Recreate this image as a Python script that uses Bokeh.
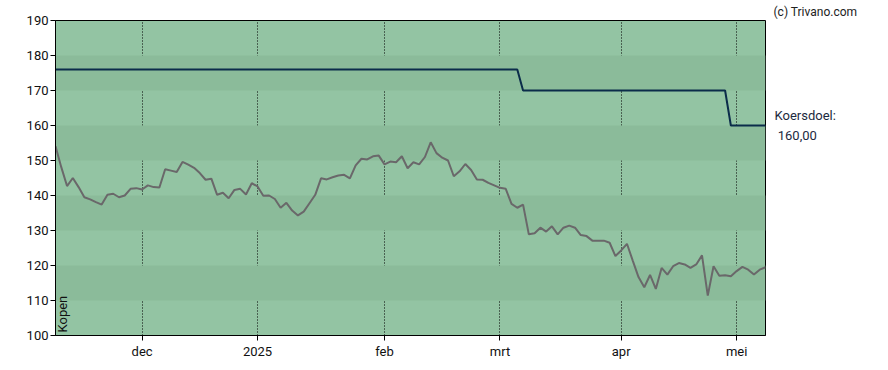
from bokeh.plotting import figure
from bokeh.models import Range1d, FixedTicker, Label, ColumnDataSource, LinearAxis
from bokeh.embed import file_html
from bokeh.resources import INLINE
import math

# ---- data (trading-day index on x) ----
price = [154.1, 148.1, 142.7, 145.0, 142.4, 139.5, 138.9, 138.1, 137.4, 140.2, 140.5,
         139.5, 140.0, 141.9, 142.1, 141.7, 142.9, 142.4, 142.3, 147.5, 147.1,
         146.7, 149.6, 148.8, 147.9, 146.4, 144.5, 144.8, 140.2, 140.8, 139.2, 141.6,
         141.9, 140.3, 143.5, 142.6, 139.9, 140.0, 139.0, 136.5, 137.9, 135.7,
         134.3, 135.4, 137.8, 140.2, 144.9, 144.6, 145.2, 145.7, 145.9, 144.9, 148.6,
         150.5, 150.3, 151.2, 151.4, 148.9, 149.7, 149.5, 151.2, 147.8, 149.5,
         148.9, 151.0, 155.2, 152.1, 150.8, 150.0, 145.5, 146.9, 149.0, 147.3, 144.6,
         144.5, 143.6, 142.9, 142.2, 141.9, 137.6, 136.5, 137.4, 128.9, 129.2,
         130.8, 129.7, 131.2, 128.9, 130.8, 131.4, 130.8, 128.7, 128.4, 127.1, 127.1,
         127.1, 126.5, 122.7, 124.3, 126.2, 121.4, 116.7, 113.8, 117.3, 113.3,
         119.3, 117.4, 119.8, 120.7, 120.3, 119.3, 120.3, 122.9, 111.4, 119.8, 117.1,
         117.2, 116.9, 118.4, 119.6, 118.8, 117.4, 118.8, 119.5]
target = [176.0] * 81 + [170.0] * 36 + [160.0] * 7
days = list(range(len(price)))

month_ticks = [15, 35, 57, 77, 98, 118]
month_labels = ["dec", "2025", "feb", "mrt", "apr", "mei"]
y_ticks = [100, 110, 120, 130, 140, 150, 160, 170, 180, 190]

target_label = "Koersdoel:"
target_value_label = f"{target[-1]:.2f}".replace(".", ",")
advice_label = "Kopen"
credit = "(c) Trivano.com"

FONT = "Roboto"
LIGHT = "#93c4a3"
DARK = "#8bbb9a"
TEXT = "#111111"

src = ColumnDataSource(dict(x=days, price=price, target=target))

p = figure(width=888, height=370, output_backend="svg", toolbar_location=None,
           x_range=Range1d(0, len(price) - 1), y_range=Range1d(100, 190),
           min_border_left=55, min_border_right=123, min_border_top=20,
           min_border_bottom=35)
p.background_fill_color = LIGHT
p.border_fill_color = "white"
p.outline_line_color = "black"
p.outline_line_width = 1

# credit as title, shifted to the right of the frame
p.title.text = credit
p.title.align = "left"
p.title.offset = 718
p.title.standoff = 3
p.title.text_font = FONT
p.title.text_font_size = "12px"
p.title.text_font_style = "normal"
p.title.text_color = "#222222"

# bands via y grid
p.ygrid.ticker = FixedTicker(ticks=y_ticks)
p.ygrid.grid_line_alpha = 0
p.ygrid.band_fill_color = DARK
p.ygrid.band_fill_alpha = 1.0

p.xgrid.ticker = FixedTicker(ticks=month_ticks)
p.xgrid.grid_line_color = "black"
p.xgrid.grid_line_dash = "1 2"
p.xgrid.grid_line_width = 1

p.line("x", "price", source=src, line_color="#6a686a", line_width=2)
p.line("x", "target", source=src, line_color="#0b2c4a", line_width=2)

# axes
p.yaxis.ticker = FixedTicker(ticks=y_ticks)
p.xaxis.ticker = FixedTicker(ticks=month_ticks)
p.xaxis.major_label_overrides = {t: l for t, l in zip(month_ticks, month_labels)}
for ax in (p.xaxis[0], p.yaxis[0]):
    ax.axis_line_color = "black"
    ax.major_tick_line_color = "black"
    ax.major_tick_in = 0
    ax.major_tick_out = 5
    ax.minor_tick_line_color = None
    ax.major_label_text_font = FONT
    ax.major_label_text_font_size = "13px"
    ax.major_label_text_color = TEXT
p.yaxis.major_label_standoff = 2
p.xaxis.major_label_standoff = 3

# target label on a right-hand axis at the last target value
last_target = target[-1]
tax = LinearAxis(ticker=FixedTicker(ticks=[last_target]),
                 major_label_overrides={last_target: f"{target_label}\n\u00a0{target_value_label}"})
tax.axis_line_color = None
tax.major_tick_line_color = None
tax.minor_tick_line_color = None
tax.major_tick_in = 0
tax.major_tick_out = 0
tax.major_label_standoff = 9
tax.major_label_text_font = FONT
tax.major_label_text_font_size = "13px"
tax.major_label_text_color = "#1c2a3e"
tax.major_label_text_line_height = 1.35
p.add_layout(tax, "right")

p.add_layout(Label(x=0, y=100, x_offset=7, y_offset=3, text=advice_label, angle=math.pi / 2,
                   text_font=FONT, text_font_size="13px", text_color=TEXT,
                   text_baseline="alphabetic"))

open("out.html", "w").write(file_html(p, INLINE))
